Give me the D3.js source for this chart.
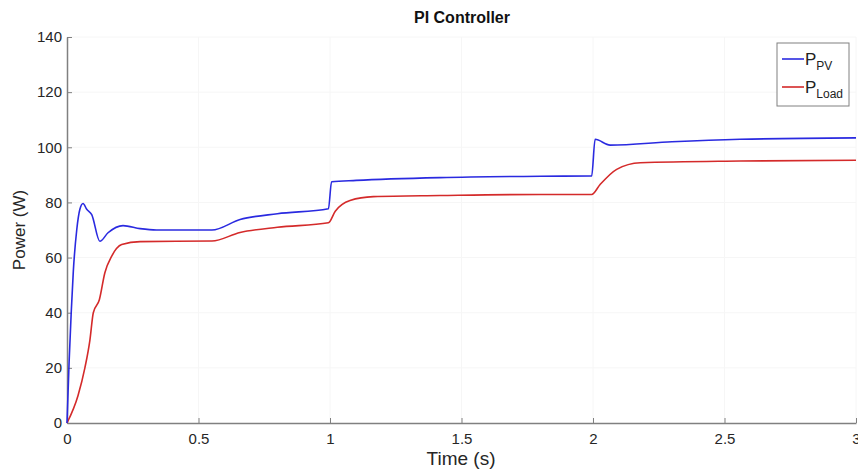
<!DOCTYPE html>
<html>
<head>
<meta charset="utf-8">
<script src="https://cdn.jsdelivr.net/npm/d3@7"></script>
<style>
  body { margin: 0; background: #fff; }
  svg { font-family: "Liberation Sans", Arial, sans-serif; }
  .axis path, .axis line { stroke: #808080; }
  .axis text { fill: #262626; font-size: 15px; }
</style>
</head>
<body>
<svg id="grafica" width="858" height="472"></svg>
<script>
// tiempo (s) y potencia (W)
const tiempoPV = [0, 0.008, 0.016, 0.024, 0.037, 0.049, 0.061, 0.075, 0.094, 0.125, 0.156, 0.213, 0.278, 0.34, 0.551, 0.658, 0.8, 0.994, 1.006, 1.1, 1.418, 1.8, 1.995, 2.008, 2.065, 2.3, 2.56, 3];
const potenciaPV = [0, 22, 40, 55, 70, 77.5, 79.6, 77.5, 75.6, 65.9, 69, 71.6, 70.5, 70, 70, 73.8, 75.9, 77.7, 87.5, 88.0, 89.0, 89.5, 89.6, 102.9, 100.8, 102.0, 102.9, 103.4];

const tiempoLoad = [0, 0.042, 0.068, 0.087, 0.1, 0.123, 0.144, 0.17, 0.208, 0.278, 0.551, 0.658, 0.8, 0.994, 1.02, 1.076, 1.165, 1.418, 1.8, 1.995, 2.027, 2.09, 2.18, 2.56, 3];
const potenciaLoad = [0, 10, 20, 30, 40, 44.7, 54.5, 60.5, 64.7, 65.8, 66, 69.1, 71, 72.6, 76.8, 80.7, 82.1, 82.5, 82.9, 82.9, 86.5, 92, 94.4, 95.0, 95.3];

const ticksX = [0, 0.5, 1, 1.5, 2, 2.5, 3];
const ticksY = [0, 20, 40, 60, 80, 100, 120, 140];

const svg = d3.select('#grafica');
const izq = 67, der = 856, arriba = 37, abajo = 423;

const x = d3.scaleLinear().domain([0, 3]).range([izq, der]);
const y = d3.scaleLinear().domain([0, 140]).range([abajo, arriba]);

// rejilla casi invisible
svg.append('g').selectAll('line.vx')
  .data(ticksX.slice(1))
  .join('line')
  .attr('x1', d => x(d)).attr('x2', d => x(d))
  .attr('y1', arriba).attr('y2', abajo)
  .attr('stroke', '#f6f6f6');
svg.append('g').selectAll('line.hy')
  .data(ticksY.slice(1))
  .join('line')
  .attr('x1', izq).attr('x2', der)
  .attr('y1', d => y(d)).attr('y2', d => y(d))
  .attr('stroke', '#f6f6f6');

// ejes, marcas hacia dentro
const ejeX = svg.append('g').attr('class', 'axis')
  .attr('transform', `translate(0,${abajo})`)
  .call(d3.axisBottom(x).tickValues(ticksX).tickFormat(d3.format('')).tickSizeInner(-5).tickSizeOuter(0).tickPadding(10));
const ejeY = svg.append('g').attr('class', 'axis')
  .attr('transform', `translate(${izq},0)`)
  .call(d3.axisLeft(y).tickValues(ticksY).tickSizeInner(-5).tickSizeOuter(0).tickPadding(5));
ejeX.select('.domain').attr('stroke-width', 1.5);
ejeY.select('.domain').attr('stroke-width', 1.5);

const linea = (ts, ps) => d3.line()
  .x((d, i) => x(ts[i]))
  .y(d => y(d))
  .curve(d3.curveMonotoneX)(ps);

svg.append('path').attr('d', linea(tiempoLoad, potenciaLoad))
  .attr('fill', 'none').attr('stroke', '#d42a2a').attr('stroke-width', 1.6);
svg.append('path').attr('d', linea(tiempoPV, potenciaPV))
  .attr('fill', 'none').attr('stroke', '#2a2ae0').attr('stroke-width', 1.6);

// titulos
svg.append('text').attr('x', 462).attr('y', 23).attr('text-anchor', 'middle')
  .attr('font-size', 16).attr('font-weight', 'bold').attr('fill', '#111').text('PI Controller');
svg.append('text').attr('x', 461).attr('y', 465).attr('text-anchor', 'middle')
  .attr('font-size', 19).attr('fill', '#262626').text('Time (s)');
svg.append('text').attr('transform', 'translate(25,230) rotate(-90)').attr('text-anchor', 'middle')
  .attr('font-size', 17).attr('fill', '#262626').text('Power (W)');

// leyenda
const ley = svg.append('g');
ley.append('rect').attr('x', 777).attr('y', 43).attr('width', 72).attr('height', 63)
  .attr('fill', '#fff').attr('stroke', '#808080');
const items = [
  { nombre: 'PV', color: '#2a2ae0' },
  { nombre: 'Load', color: '#d42a2a' }
];
items.forEach((it, i) => {
  const yy = 59 + i * 28;
  ley.append('line').attr('x1', 782).attr('x2', 804).attr('y1', yy).attr('y2', yy)
    .attr('stroke', it.color).attr('stroke-width', 1.6);
  const t = ley.append('text').attr('x', 805).attr('y', yy + 6).attr('font-size', 17).attr('fill', '#222');
  t.append('tspan').text('P');
  t.append('tspan').attr('dy', 5).attr('font-size', 12).text(it.nombre);
});
</script>
</body>
</html>
